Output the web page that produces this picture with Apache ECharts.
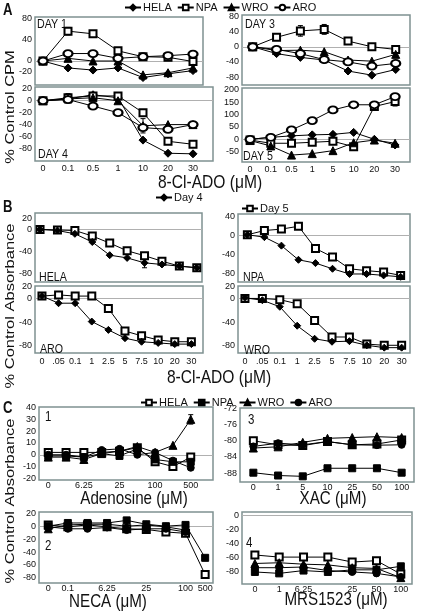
<!DOCTYPE html>
<html><head><meta charset="utf-8">
<script src="https://cdn.jsdelivr.net/npm/echarts@6/dist/echarts.min.js"></script>
<style>html,body{margin:0;padding:0;background:#fff}#c{width:427px;height:614px}</style>
</head><body><div id="c"></div>
<script>
// ---------- categories / tick labels ----------
const xA7 = ['0','0.1','0.5','1','10','20','30'];
const xA8 = ['0','0.1','0.5','1','5','10','20','30'];
const xB  = ['0','.05','0.1','1','2.5','5','7.5','10','20','30'];
const xC1 = ['0','','6.25','','25','','100','','500'];
const xC3 = ['0','1','5','10','25','50','100'];
const xC2 = ['0','0.1','','6.25','','25','','100','500'];
const xC4 = ['0','1','6.25','','25','50','100'];

const yA1 = [80,40,0,-20];
const yA3 = [80,40,0,-40,-80];
const yA4 = [20,0,-20,-40,-60,-80];
const yA5 = [200,150,100,50,0,-50];
const yB1 = [20,0,-40,-80];
const yB2 = [40,0,-40,-80];
const yC1 = [40,30,20,10,0,-10,-20];
const yC3 = [-72,-76,-80,-84,-88];
const yC2 = [20,0,-20,-40,-60,-80];
const yC4 = [0,-20,-40,-60,-80];

// ---------- series values ----------
// Panel A : % Control CPM
const day1HELA = [0,-13,-17,-13,-31,-24,-18];
const day1NPA  = [0,56,51,19,8,7,-1];
const day1WRO  = [0,5,0,0,-26,-22,-13];
const day1ARO  = [0,14,14,5,8,10,13];

const day3HELA = [0,-18,-28,-35,-64,-75,-60];
const day3NPA  = [0,25,42,46,15,0,-7];
const day3WRO  = [0,-10,-9,-13,-35,-38,-20];
const day3ARO  = [0,-7,-18,-34,-40,-51,-44];

const day4HELA = [0,3,10,5,-66,-88,-89];
const day4NPA  = [0,5,8,8,-20,-68,-73];
const day4WRO  = [0,3,5,0,-42,-40,-40];
const day4ARO  = [0,2,-9,-20,-45,-48,-40];

const day5HELA = [0,8,14,18,20,28,0,-23];
const day5NPA  = [-3,-16,-16,-12,-8,-30,133,153];
const day5WRO  = [-5,-27,-64,-58,-46,-14,-3,-16];
const day5ARO  = [0,8,38,76,119,140,140,173];

// error bars (± values)
const errDay1NPA = [0,7,0,0,0,0,0];
const errDay3NPA = [0,0,14,13,0,0,0];
const errDay4NPA = [0,7,0,0,0,0,0];
const errDay4WRO = [0,0,0,0,12,0,0];
const errDay5NPA = [0,0,0,0,0,0,0,18];

// Panel B : % Control Absorbance (Day 4 / Day 5)
const bHelaDay4 = [0,-2,-8,-23,-47,-52,-61,-64,-67,-70];
const bHelaDay5 = [0,-1,-2,-12,-25,-39,-48,-58,-67,-70];
const bNpaDay4  = [2,-3,-21,-51,-58,-70,-81,-81,-84,-87];
const bNpaDay5  = [2,11,14,20,-27,-45,-70,-74,-77,-84];
const bAroDay4  = [4,-8,-8,-39,-53,-67,-73,-75,-77,-77];
const bAroDay5  = [4,6,4,4,-17,-55,-63,-70,-73,-73];
const bWroDay4  = [1,-3,-14,-46,-68,-73,-72,-79,-83,-83];
const bWroDay5  = [0,0,-2,-9,-37,-65,-65,-77,-79,-79];

const errBHelaDay4 = [0,0,0,0,0,0,9,0,0,0];
const errBHelaDay5 = [0,0,0,0,0,5,0,5,0,0];
const errBAroDay5  = [0,0,0,0,0,6,0,0,0,0];

// Panel C
const c1HELA = [2,2,2,2,3,6,-6,-10,-2];
const c1NPA  = [-1,-1,-2,1,-1,5,-4,-6,-6];
const c1WRO  = [-2,-2,-4,1,3,7,2,8,30];
const c1ARO  = [0,0,-2,4,5,0,2,-5,-11];
const errC1WRO = [0,0,0,0,0,0,0,0,4];

const c3HELA = [-80,-81,-81.2,-80.2,-81,-80.8,-79.8];
const c3NPA  = [-87.9,-88.6,-88.8,-86.8,-86.8,-86.8,-87.9];
const c3WRO  = [-81.8,-81.5,-80.4,-79.4,-79.2,-79,-79.2];
const c3ARO  = [-81.4,-80.6,-81,-80.2,-81,-81.1,-81];

const c2HELA = [2,-1,2,-1,-4,-5,-9,-11,-75];
const c2NPA  = [0,5,5,5,9,3,0,2,-49];
const c2WRO  = [-4,2,3,3,0,2,-1,-6,null];
const c2ARO  = [-1,-4,-4,-2,-6,-4,-4,-9,null];

const c4HELA = [-56,-59,-59,-59,-66,-64,-83];
const c4NPA  = [-80,-82,-78,-80,-77,-77,-72];
const c4WRO  = [-68,-67,-69,-70,-74,-75,-88];
const c4ARO  = [-74,-74,-73,-78,-80,-82,-87];

// ---------- fonts ----------
function hasFont(name){
  const c=document.createElement('canvas').getContext('2d');
  const s='abcdefghijklmnopqrstuvwxyz ABCDEFGHIJKLM 0123456789';
  c.font='40px monospace'; const a=c.measureText(s).width;
  c.font='40px "'+name+'", monospace'; const b=c.measureText(s).width;
  return Math.abs(a-b)>1;
}
const REG = '"Liberation Sans", Arial, Helvetica, sans-serif';
const NARROW_OK = hasFont('Liberation Sans Narrow');
const NAR = NARROW_OK ? '"Liberation Sans Narrow", "Liberation Sans", Arial, sans-serif' : REG;
const SMALL = NARROW_OK ? 10 : 9;       // tick label size
const BOX = '#7f9191';
const TXT = '#111';

const symA = {HELA:['diamond',8], NPA:['emptyRect',7], WRO:['triangle',8], ARO:['emptyCircle',[9,7]]};
const symB = {'Day 4':['diamond',7], 'Day 5':['emptyRect',7]};
const symC = {'C:HELA':['emptyRect',7], 'C:NPA':['rect',7], 'C:WRO':['triangle',8], 'C:ARO':['circle',7]};

const grids=[], xAxes=[], yAxes=[], series=[];
function panel(p){
  const gi = grids.length;
  grids.push({left:p.l, top:p.t, width:p.w, height:p.h, show:true, borderColor:BOX, borderWidth:1.5,
              backgroundColor:'#fff', containLabel:false, outerBoundsMode:'none'});
  xAxes.push({type:'value', gridIndex:gi, min:p.xmin, max:p.xmax, minInterval:1, maxInterval:1,
    axisLine:{show:false}, axisTick:{show:false}, splitLine:{show:false},
    axisLabel:{show:!!p.xl, margin:p.xm||3, fontSize:SMALL, color:TXT, fontFamily:NAR,
      formatter:function(v){ const i=Math.round(v); if(!p.xl||Math.abs(v-i)>1e-6) return ''; const s=p.xl[Math.abs(i)===0?0:i]; return s==null?'':s; }}});
  yAxes.push({type:'value', gridIndex:gi, min:p.ymin, max:p.ymax, minInterval:p.step, maxInterval:p.step,
    axisLine:{show:false}, axisTick:{show:false}, splitLine:{show:false},
    axisLabel:{margin:3, fontSize:SMALL, color:TXT, fontFamily:NAR,
      formatter:function(v){ const m=p.yl.find(t=>Math.abs(t-v)<1e-6); return m===undefined?'':String(m); }}});
  p.s.forEach(function(s,k){
    const sym = p.sym[s[0]];
    const o = {type:'line', name:s[0], xAxisIndex:gi, yAxisIndex:gi,
      data:s[1].map((v,i)=>[i,v]), symbol:sym[0], symbolSize:sym[1], showAllSymbol:true,
      lineStyle:{color:'#000', width:1}, itemStyle:{color:'#000', borderColor:'#000', borderWidth:1},
      emphasis:{disabled:true}, animation:false, z:3};
    if(k===0 && p.zero){
      o.markLine = {silent:true, symbol:'none', z:1, label:{show:false}, animation:false,
        lineStyle:{color:'#b0b0b0', width:1, type:'solid'}, emphasis:{disabled:true}, data:[{yAxis:0}]};
    }
    series.push(o);
  });
  return gi;
}
function errSeries(gi, vals, errs){
  series.push({type:'custom', xAxisIndex:gi, yAxisIndex:gi, silent:true, z:2, animation:false,
    data: vals.map((v,i)=>[i, v, errs[i]]).filter(d=>d[2]>0),
    renderItem:function(params, api){
      const x=api.value(0), v=api.value(1), e=api.value(2);
      const hi=api.coord([x, v+e]), lo=api.coord([x, v-e]);
      const w=2.5, st={stroke:'#000', lineWidth:1};
      return {type:'group', children:[
        {type:'line', shape:{x1:hi[0],y1:hi[1],x2:lo[0],y2:lo[1]}, style:st},
        {type:'line', shape:{x1:hi[0]-w,y1:hi[1],x2:hi[0]+w,y2:hi[1]}, style:st},
        {type:'line', shape:{x1:lo[0]-w,y1:lo[1],x2:lo[0]+w,y2:lo[1]}, style:st}]};
    }});
}

// Panel A
let g;
g = panel({l:35,t:17,w:168,h:68, xmin:-0.32,xmax:6.4, ymin:-45,ymax:82.5, step:20, yl:yA1, xl:null, zero:true, sym:symA,
  s:[['HELA',day1HELA],['NPA',day1NPA],['WRO',day1WRO],['ARO',day1ARO]]});
errSeries(g, day1NPA, errDay1NPA);
g = panel({l:242,t:15,w:168,h:70, xmin:-0.45,xmax:6.6, ymin:-101,ymax:84, step:40, yl:yA3, xl:null, zero:true, sym:symA,
  s:[['HELA',day3HELA],['NPA',day3NPA],['WRO',day3WRO],['ARO',day3ARO]]});
errSeries(g, day3NPA, errDay3NPA);
g = panel({l:35,t:87,w:178,h:74, xmin:-0.32,xmax:6.8, ymin:-101,ymax:23, step:20, yl:yA4, xl:xA7, xm:3, zero:true, sym:symA,
  s:[['HELA',day4HELA],['NPA',day4NPA],['WRO',day4WRO],['ARO',day4ARO]]});
errSeries(g, day4NPA, errDay4NPA); errSeries(g, day4WRO, errDay4WRO);
g = panel({l:242,t:88,w:168,h:74, xmin:-0.39,xmax:7.72, ymin:-92,ymax:208, step:50, yl:yA5, xl:xA8, xm:3, zero:true, sym:symA,
  s:[['HELA',day5HELA],['NPA',day5NPA],['WRO',day5WRO],['ARO',day5ARO]]});
errSeries(g, day5NPA, errDay5NPA);

// Panel B
g = panel({l:35,t:213,w:167,h:69, xmin:-0.29,xmax:9.3, ymin:-96,ymax:30, step:20, yl:yB1, xl:null, zero:true, sym:symB,
  s:[['Day 5',bHelaDay5],['Day 4',bHelaDay4]]});
errSeries(g, bHelaDay4, errBHelaDay4); errSeries(g, bHelaDay5, errBHelaDay5);
panel({l:238,t:214,w:172,h:68, xmin:-0.55,xmax:9.55, ymin:-98,ymax:46, step:40, yl:yB2, xl:null, zero:true, sym:symB,
  s:[['Day 5',bNpaDay5],['Day 4',bNpaDay4]]});
g = panel({l:35,t:286,w:168,h:67, xmin:-0.42,xmax:9.7, ymin:-92,ymax:21, step:20, yl:yB1, xl:xB, xm:4, zero:true, sym:symB,
  s:[['Day 5',bAroDay5],['Day 4',bAroDay4]]});
errSeries(g, bAroDay5, errBAroDay5);
panel({l:238,t:286,w:172,h:67, xmin:-0.4,xmax:9.48, ymin:-92,ymax:21, step:20, yl:yB1, xl:xB, xm:4, zero:true, sym:symB,
  s:[['Day 5',bWroDay5],['Day 4',bWroDay4]]});

// Panel C
g = panel({l:39,t:407,w:174,h:73, xmin:-0.52,xmax:9.25, ymin:-21.4,ymax:40.5, step:10, yl:yC1, xl:xC1, xm:1, zero:true, sym:symC,
  s:[['C:HELA',c1HELA],['C:NPA',c1NPA],['C:WRO',c1WRO],['C:ARO',c1ARO]]});
errSeries(g, c1WRO, errC1WRO);
panel({l:240,t:408,w:174,h:74, xmin:-0.54,xmax:6.5, ymin:-90.2,ymax:-71.9, step:4, yl:yC3, xl:xC3, xm:1, zero:false, sym:symC,
  s:[['C:HELA',c3HELA],['C:NPA',c3NPA],['C:WRO',c3WRO],['C:ARO',c3ARO]]});
panel({l:39,t:512,w:174,h:71, xmin:-0.47,xmax:8.4, ymin:-88,ymax:22, step:20, yl:yC2, xl:xC2, xm:1, zero:true, sym:symC,
  s:[['C:HELA',c2HELA],['C:NPA',c2NPA],['C:WRO',c2WRO],['C:ARO',c2ARO]]});
panel({l:242,t:512,w:170,h:72, xmin:-0.53,xmax:6.46, ymin:-97,ymax:4.7, step:20, yl:yC4, xl:xC4, xm:1, zero:true, sym:symC,
  s:[['C:HELA',c4HELA],['C:NPA',c4NPA],['C:WRO',c4WRO],['C:ARO',c4ARO]]});

// horizontally squeezed text (the figure is compressed horizontally)
function txt(x,y,t,size,opt){
  opt=opt||{};
  const rot = opt.rot||0;
  return {type:'text', x:x, y:y, rotation:rot, silent:true,
    scaleX: rot? 1 : 0.82, scaleY: rot? 0.82 : 1,
    style:{text:t, fill:TXT, font:(opt.bold?'bold ':'')+size+'px '+REG,
      textAlign:opt.align||'left', textVerticalAlign:'middle'}};
}
const graphics = [
  txt(3,11,'A',16,{bold:true}), txt(3,208,'B',16,{bold:true}), txt(3,409,'C',16,{bold:true}),
  txt(10,107,'% Control CPM',16.5,{rot:Math.PI/2,align:'center'}),
  txt(10,306,'% Control Absorbance',16.5,{rot:Math.PI/2,align:'center'}),
  txt(10,501,'% Control Absorbance',16.5,{rot:Math.PI/2,align:'center'}),
  txt(210,183,'8-Cl-ADO (\u03bcM)',19,{align:'center'}),
  txt(219,378,'8-Cl-ADO (\u03bcM)',19,{align:'center'}),
  txt(134,499,'Adenosine (\u03bcM)',18.5,{align:'center'}),
  txt(333,499,'XAC (\u03bcM)',18.5,{align:'center'}),
  txt(108,602,'NECA (\u03bcM)',18.5,{align:'center'}),
  txt(336,600,'MRS1523 (\u03bcM)',18.5,{align:'center'}),
  txt(37,24,'DAY 1',13), txt(245,24,'DAY 3',13), txt(38,154,'DAY 4',13), txt(243,156,'DAY 5',13),
  txt(39,277,'HELA',13), txt(243,277,'NPA',13), txt(40,349,'ARO',13), txt(244,350,'WRO',13),
  txt(45,417,'1',14), txt(248,420,'3',14), txt(45,546,'2',14), txt(246,543,'4',14)
];

const legBase = {orient:'horizontal', itemWidth:16, itemHeight:7, itemGap:5, selectedMode:false, padding:0,
  textStyle:{fontSize:NARROW_OK?12:11, fontFamily:NAR, color:TXT, padding:[0,0,0,-3]}};
const legends = [
  Object.assign({}, legBase, {data:['HELA','NPA','WRO','ARO'], left:124, top:2}),
  Object.assign({}, legBase, {data:['Day 4'], left:155, top:192}),
  Object.assign({}, legBase, {data:['Day 5'], left:241, top:203}),
  Object.assign({}, legBase, {data:['C:HELA','C:NPA','C:WRO','C:ARO'], left:140, top:397,
     formatter:function(n){return n.replace('C:','');}})
];

const chart = echarts.init(document.getElementById('c'), null, {renderer:'canvas'});
chart.setOption({
  animation:false, backgroundColor:'#fff',
  grid:grids, xAxis:xAxes, yAxis:yAxes, series:series, legend:legends, graphic:graphics
});
</script></body></html>
